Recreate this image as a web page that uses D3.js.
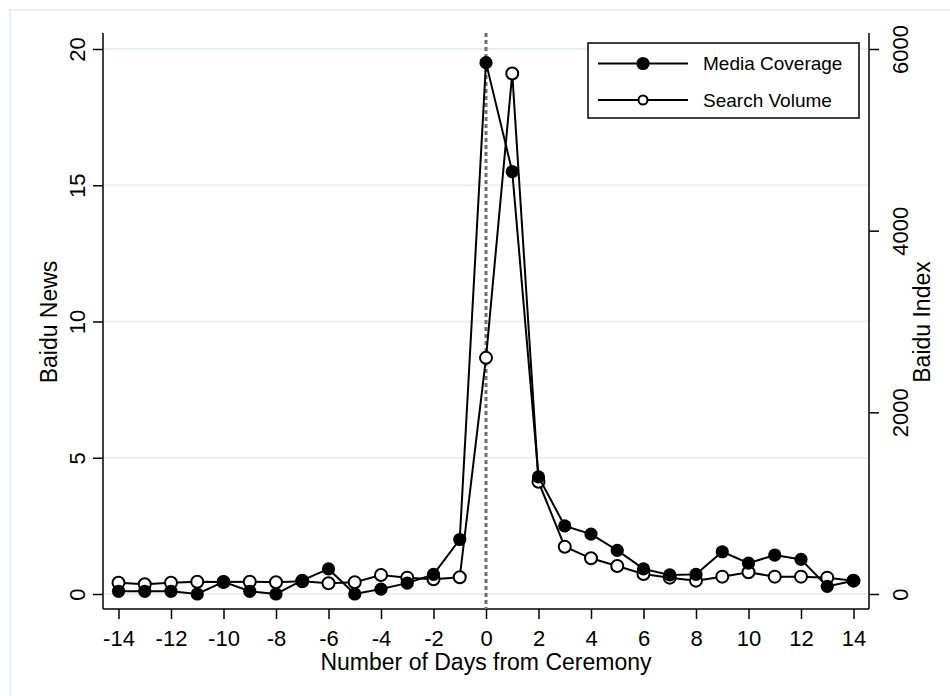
<!DOCTYPE html>
<html><head><meta charset="utf-8">
<script src="https://cdn.jsdelivr.net/npm/d3@7"></script>
<style>body{margin:0;background:#fff}svg{display:block;font-family:"Liberation Sans",Arial,sans-serif}</style>
</head><body><svg id="c" width="950" height="696"></svg>
<script>
const days = d3.range(-14, 15);
const mediaCoverage = [0.1,0.1,0.1,0,0.45,0.1,0,0.5,0.92,0,0.18,0.4,0.72,2.0,19.5,15.5,4.3,2.5,2.2,1.6,0.92,0.7,0.72,1.55,1.13,1.43,1.27,0.28,0.49];
const searchVolume = [124,107,124,135,132,135,129,140,118,129,209,180,162,184,2600,5730,1236,521,393,308,220,180,147,191,239,191,191,180,147];
const xTicks = d3.range(-14, 15, 2);
const leftTicks = [0,5,10,15,20];
const rightTicks = [0,2000,4000,6000];

const svg = d3.select("#c");
const L=103, R=869, T=33, B=609;
const x = d3.scaleLinear().domain([-14,14]).range([118.5,853.5]);
const yL = d3.scaleLinear().domain([0,20]).range([594,49]);
const yR = d3.scaleLinear().domain([0,6000]).range([594,49]);
const plain = d => String(d);

svg.append("rect").attr("x",10).attr("y",10).attr("width",960).attr("height",700)
  .attr("fill","none").attr("stroke","#eaf0f0").attr("stroke-width",2);

// gridlines
svg.append("g").selectAll("line").data(leftTicks).join("line")
  .attr("x1",L).attr("x2",R).attr("y1",d=>yL(d)).attr("y2",d=>yL(d))
  .attr("stroke","#e8f0f2").attr("stroke-width",2);

// axes
const fs = "22px";
const gL = svg.append("g").attr("transform",`translate(${L},0)`)
  .call(d3.axisLeft(yL).tickValues(leftTicks).tickFormat(plain).tickSize(10).tickSizeOuter(0).tickPadding(0));
gL.select(".domain").attr("d",`M0,${T}V${B}`).attr("stroke","#000").attr("stroke-width",1.5);
gL.selectAll(".tick line").attr("stroke","#000").attr("stroke-width",1.5);
gL.selectAll(".tick text").attr("font-size",fs).attr("fill","#000").attr("font-family","Liberation Sans, Arial, sans-serif")
  .attr("x",0).attr("dy",0).attr("text-anchor","middle").attr("transform","translate(-18,0) rotate(-90)");

const gR = svg.append("g").attr("transform",`translate(${R},0)`)
  .call(d3.axisRight(yR).tickValues(rightTicks).tickFormat(plain).tickSize(10).tickSizeOuter(0).tickPadding(0));
gR.select(".domain").attr("d",`M0,${T}V${B}`).attr("stroke","#000").attr("stroke-width",1.5);
gR.selectAll(".tick line").attr("stroke","#000").attr("stroke-width",1.5);
gR.selectAll(".tick text").attr("font-size",fs).attr("fill","#000").attr("font-family","Liberation Sans, Arial, sans-serif")
  .attr("x",0).attr("dy",0).attr("text-anchor","middle").attr("transform","translate(39,0) rotate(-90)");

const gX = svg.append("g").attr("transform",`translate(0,${B})`)
  .call(d3.axisBottom(x).tickValues(xTicks).tickFormat(plain).tickSize(10).tickSizeOuter(0).tickPadding(10));
gX.select(".domain").attr("d",`M${L},0H${R}`).attr("stroke","#000").attr("stroke-width",1.5);
gX.selectAll(".tick line").attr("stroke","#000").attr("stroke-width",1.5);
gX.selectAll(".tick text").attr("font-size",fs).attr("fill","#000").attr("font-family","Liberation Sans, Arial, sans-serif")
  .attr("y",0).attr("dy",0).attr("transform","translate(0,37)");

// titles
svg.append("text").attr("x",486).attr("y",670).attr("text-anchor","middle").attr("font-size","23px").text("Number of Days from Ceremony");
svg.append("text").attr("transform","translate(57,322) rotate(-90)").attr("text-anchor","middle").attr("font-size","23px").text("Baidu News");
svg.append("text").attr("transform","translate(930,322) rotate(-90)").attr("text-anchor","middle").attr("font-size","23px").text("Baidu Index");

// ceremony line
svg.append("line").attr("x1",x(0)).attr("x2",x(0)).attr("y1",T).attr("y2",B)
  .attr("stroke","#6e6e6e").attr("stroke-width",3).attr("stroke-dasharray","4,3");

// search volume
const sv = days.map((d,i)=>[d,searchVolume[i]]);
svg.append("path").datum(sv).attr("fill","none").attr("stroke","#000").attr("stroke-width",2)
  .attr("d",d3.line().x(d=>x(d[0])).y(d=>yR(d[1])));
svg.append("g").selectAll("circle").data(sv).join("circle")
  .attr("cx",d=>x(d[0])).attr("cy",d=>yR(d[1])).attr("r",6)
  .attr("fill","#fff").attr("stroke","#000").attr("stroke-width",2);

// media coverage
const mc = days.map((d,i)=>[d,mediaCoverage[i]]);
svg.append("path").datum(mc).attr("fill","none").attr("stroke","#000").attr("stroke-width",2)
  .attr("d",d3.line().x(d=>x(d[0])).y(d=>yL(d[1])));
svg.append("g").selectAll("circle").data(mc).join("circle")
  .attr("cx",d=>x(d[0])).attr("cy",d=>yL(d[1])).attr("r",6.6).attr("fill","#000");

// legend
const lg = svg.append("g");
lg.append("rect").attr("x",588).attr("y",43).attr("width",271).attr("height",75)
  .attr("fill","#fff").attr("stroke","#000").attr("stroke-width",1.5);
const items = [{name:"Media Coverage",y:63.5,filled:true},{name:"Search Volume",y:100,filled:false}];
items.forEach(it=>{
  lg.append("line").attr("x1",598).attr("x2",688).attr("y1",it.y).attr("y2",it.y).attr("stroke","#000").attr("stroke-width",2);
  if(it.filled) lg.append("circle").attr("cx",643).attr("cy",it.y).attr("r",6.6).attr("fill","#000");
  else lg.append("circle").attr("cx",643).attr("cy",it.y).attr("r",4.5).attr("fill","#fff").attr("stroke","#000").attr("stroke-width",2);
  lg.append("text").attr("x",703).attr("y",it.y).attr("dy","0.35em").attr("font-size","19px").text(it.name);
});
</script></body></html>
